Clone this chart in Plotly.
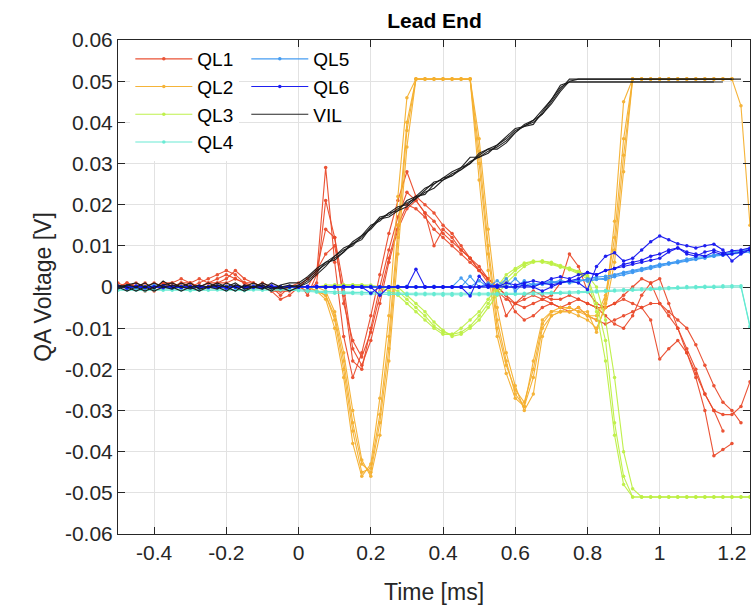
import plotly.graph_objects as go

# ---------------- data ----------------
time_ms = [-0.5, -0.475, -0.45, -0.425, -0.4, -0.375, -0.35, -0.325, -0.3, -0.275,
           -0.25, -0.225, -0.2, -0.175, -0.15, -0.125, -0.1, -0.075, -0.05, -0.025,
           0.0, 0.025, 0.05, 0.075, 0.1, 0.125, 0.15, 0.175, 0.2, 0.225,
           0.25, 0.275, 0.3, 0.325, 0.35, 0.375, 0.4, 0.425, 0.45, 0.475,
           0.5, 0.525, 0.55, 0.575, 0.6, 0.625, 0.65, 0.675, 0.7, 0.725,
           0.75, 0.775, 0.8, 0.825, 0.85, 0.875, 0.9, 0.925, 0.95, 0.975,
           1.0, 1.025, 1.05, 1.075, 1.1, 1.125, 1.15, 1.175, 1.2, 1.225, 1.25]

ql1_run1 = [0.000, 0.001, 0.000, -0.001, 0.000, 0.001, 0.001, 0.000, 0.001, 0.002,
            0.001, 0.002, 0.003, 0.002, 0.001, 0.000, 0.001, 0.000, -0.002, 0.000,
            0.001, -0.002, 0.003, 0.029, 0.006, -0.012, -0.022, -0.016, -0.007, 0.003,
            0.013, 0.021, 0.028, 0.022, 0.020, 0.018, 0.015, 0.013, 0.010, 0.007,
            0.004, 0.002, 0.000, -0.002, -0.004, -0.005, -0.004, -0.003, -0.002, 0.001,
            0.008, 0.005, -0.001, -0.004, -0.005, -0.004, -0.003, -0.004, -0.005, -0.008,
            -0.0175, -0.015, -0.013, -0.016, -0.022, -0.030, -0.041, -0.0395, -0.038]
ql1_run2 = [0.001, 0.000, 0.000, 0.001, -0.001, 0.000, 0.001, 0.002, 0.001, 0.000,
            0.001, 0.001, 0.002, 0.004, 0.002, 0.001, 0.000, -0.001, -0.001, 0.000,
            0.000, -0.001, 0.001, 0.021, 0.012, -0.004, -0.013, -0.017, -0.011, -0.002,
            0.007, 0.015, 0.020, 0.019, 0.017, 0.014, 0.012, 0.010, 0.008, 0.006,
            0.004, 0.001, -0.001, -0.003, -0.004, -0.003, -0.002, -0.003, -0.004, -0.005,
            -0.004, -0.003, -0.004, -0.005, -0.007, -0.009, -0.010, -0.007, -0.002, 0.001,
            0.002, -0.004, -0.010, -0.016, -0.021, -0.026, -0.030, -0.035]
ql1_run3 = [0.000, 0.000, 0.001, 0.000, 0.000, 0.001, 0.000, 0.001, 0.000, 0.001,
            0.002, 0.003, 0.004, 0.003, 0.001, 0.000, 0.000, -0.001, -0.003, -0.002,
            0.000, 0.002, 0.004, 0.008, 0.010, -0.002, -0.018, -0.020, -0.010, 0.000,
            0.009, 0.017, 0.023, 0.021, 0.018, 0.016, 0.013, 0.011, 0.009, 0.007,
            0.004, 0.002, 0.000, -0.007, -0.004, -0.002, -0.001, -0.002, -0.003, -0.003,
            -0.002, -0.003, -0.004, -0.005, -0.005, -0.004, -0.002, 0.000, 0.002, 0.001,
            -0.004, -0.007, -0.010, -0.015, -0.020, -0.026, -0.030, -0.031, -0.031, -0.029, -0.023]
ql1_run4 = [0.000, 0.001, 0.000, 0.000, 0.001, 0.000, 0.000, 0.001, 0.001, 0.000,
            0.000, 0.001, 0.001, 0.002, 0.001, 0.001, 0.000, 0.000, -0.001, -0.001,
            0.000, 0.000, 0.004, 0.014, 0.012, 0.000, -0.015, -0.019, -0.013, -0.004,
            0.006, 0.014, 0.019, 0.021, 0.018, 0.010, 0.014, 0.012, 0.009, 0.007,
            0.005, 0.002, 0.000, -0.002, -0.006, -0.008, -0.007, -0.005, -0.004, -0.005,
            -0.006, -0.005, -0.007, -0.008, -0.009, -0.008, -0.007, -0.006, -0.005, -0.004,
            -0.004, -0.006, -0.008, -0.010, -0.014, -0.019, -0.024, -0.028, -0.030, -0.033]

ql2_run1 = [0.000, 0.000, 0.000, 0.000, 0.000, 0.000, 0.000, 0.000, 0.000, 0.000,
            0.000, 0.000, 0.000, 0.000, 0.000, 0.000, 0.000, 0.000, 0.000, 0.000,
            0.000, 0.000, -0.001, -0.002, -0.008, -0.020, -0.035, -0.045, -0.044, -0.031,
            -0.012, 0.015, 0.040, 0.0505, 0.0505, 0.0505, 0.0505, 0.0505, 0.0505, 0.0505,
            0.030, 0.008, -0.010, -0.019, -0.025, -0.028, -0.020, -0.009, -0.006, -0.006,
            -0.005, -0.006, -0.007, -0.007, -0.002, 0.012, 0.036, 0.0505, 0.0505, 0.0505,
            0.0505, 0.0505, 0.0505, 0.0505, 0.0505, 0.0505, 0.0505, 0.0505, 0.0505, 0.044, 0.015]
ql2_run2 = [0.000, 0.000, 0.000, 0.000, 0.000, 0.000, 0.000, 0.000, 0.000, 0.000,
            0.000, 0.000, 0.000, 0.000, 0.000, 0.000, 0.000, 0.000, 0.000, 0.000,
            0.000, 0.000, 0.000, -0.001, -0.006, -0.016, -0.030, -0.042, -0.046, -0.036,
            -0.018, 0.008, 0.034, 0.0505, 0.0505, 0.0505, 0.0505, 0.0505, 0.0505, 0.0505,
            0.036, 0.014, -0.005, -0.016, -0.024, -0.030, -0.026, -0.012, -0.007, -0.006,
            -0.006, -0.007, -0.008, -0.010, -0.005, 0.006, 0.028, 0.0505, 0.0505, 0.0505,
            0.0505, 0.0505, 0.0505, 0.0505, 0.0505, 0.0505, 0.0505, 0.0505, 0.0505]
ql2_run3 = [0.000, 0.000, 0.000, 0.000, 0.000, 0.000, 0.000, 0.000, 0.000, 0.000,
            0.000, 0.000, 0.000, 0.000, 0.000, 0.000, 0.000, 0.000, 0.000, 0.000,
            0.000, 0.000, -0.001, -0.003, -0.010, -0.022, -0.038, -0.046, -0.043, -0.027,
            -0.007, 0.022, 0.046, 0.0505, 0.0505, 0.0505, 0.0505, 0.0505, 0.0505, 0.0505,
            0.026, 0.004, -0.012, -0.021, -0.027, -0.029, -0.018, -0.008, -0.006, -0.005,
            -0.005, -0.006, -0.006, -0.011, -0.004, 0.016, 0.045, 0.0505, 0.0505, 0.0505,
            0.0505, 0.0505, 0.0505, 0.0505, 0.0505, 0.0505, 0.0505, 0.0505, 0.0505]
ql2_run4 = [0.000, 0.000, 0.000, 0.000, 0.000, 0.000, 0.000, 0.000, 0.000, 0.000,
            0.000, 0.000, 0.000, 0.000, 0.000, 0.000, 0.000, 0.000, 0.000, 0.000,
            0.000, 0.000, -0.001, -0.002, -0.007, -0.018, -0.033, -0.043, -0.045, -0.033,
            -0.015, 0.012, 0.038, 0.0505, 0.0505, 0.0505, 0.0505, 0.0505, 0.0505, 0.0505,
            0.033, 0.010, -0.008, -0.018, -0.026, -0.029, -0.022, -0.010, -0.007, -0.006,
            -0.006, -0.005, -0.007, -0.008, -0.003, 0.009, 0.032, 0.0505, 0.0505, 0.0505,
            0.0505, 0.0505, 0.0505, 0.0505, 0.0505, 0.0505, 0.0505, 0.0505, 0.0505]

ql3_run1 = [0.000, 0.000, 0.000, 0.000, 0.000, 0.000, 0.000, 0.000, 0.000, 0.000,
            0.000, 0.000, 0.000, 0.000, 0.000, 0.000, 0.000, 0.000, 0.000, 0.000,
            0.000, 0.000, 0.000, 0.000, 0.0005, 0.0005, 0.0005, 0.0005, 0.0005, 0.000,
            0.000, -0.001, -0.003, -0.005, -0.007, -0.0095, -0.011, -0.0115, -0.011, -0.0095,
            -0.007, -0.004, -0.001, 0.002, 0.004, 0.0055, 0.0062, 0.0063, 0.0058, 0.005,
            0.0045, 0.0035, 0.0025, -0.004, -0.013, -0.033, -0.046, -0.051, -0.051, -0.051,
            -0.051, -0.051, -0.051, -0.051, -0.051, -0.051, -0.051, -0.051, -0.051, -0.051, -0.051]
ql3_run2 = [0.000, 0.000, 0.000, 0.000, 0.000, 0.000, 0.000, 0.000, 0.000, 0.000,
            0.000, 0.000, 0.000, 0.000, 0.000, 0.000, 0.000, 0.000, 0.000, 0.000,
            0.000, 0.000, 0.000, 0.0005, 0.0005, 0.0005, 0.0005, 0.0005, 0.000, 0.000,
            0.000, 0.000, -0.002, -0.004, -0.006, -0.0085, -0.0105, -0.012, -0.0115, -0.010,
            -0.008, -0.005, -0.002, 0.001, 0.003, 0.005, 0.006, 0.0063, 0.006, 0.0052,
            0.0046, 0.0038, 0.0028, 0.000, -0.008, -0.022, -0.040, -0.049, -0.051, -0.051,
            -0.051, -0.051, -0.051, -0.051, -0.051, -0.051, -0.051, -0.051, -0.051, -0.051, -0.051]
ql3_run3 = [0.000, 0.000, 0.000, 0.000, 0.000, 0.000, 0.000, 0.000, 0.000, 0.000,
            0.000, 0.000, 0.000, 0.000, 0.000, 0.000, 0.000, 0.000, 0.000, 0.000,
            0.000, 0.000, 0.000, 0.000, 0.000, 0.0005, 0.0005, 0.0005, 0.000, 0.000,
            -0.001, -0.002, -0.004, -0.006, -0.008, -0.010, -0.0115, -0.0115, -0.010, -0.008,
            -0.006, -0.003, 0.000, 0.003, 0.0045, 0.0058, 0.0063, 0.006, 0.0055, 0.0048,
            0.0042, 0.0032, 0.002, -0.006, -0.018, -0.036, -0.048, -0.051, -0.051, -0.051,
            -0.051, -0.051, -0.051, -0.051, -0.051, -0.051, -0.051, -0.051, -0.051, -0.051, -0.051]

ql4_run1 = [-0.0005, -0.0006, -0.0004, -0.0005, -0.0006, -0.0005, -0.0004, -0.0005, -0.0006, -0.0005,
            -0.0005, -0.0004, -0.0005, -0.0006, -0.0005, -0.0005, -0.0004, -0.0005, -0.0006, -0.0005,
            -0.0006, -0.0008, -0.0010, -0.0011, -0.0012, -0.0012, -0.0013, -0.0013, -0.0014, -0.0014,
            -0.0014, -0.0015, -0.0015, -0.0015, -0.0015, -0.0016, -0.0016, -0.0016, -0.0016, -0.0016,
            -0.0016, -0.0016, -0.0016, -0.0015, -0.0015, -0.0015, -0.0014, -0.0014, -0.0013, -0.0013,
            -0.0012, -0.0011, -0.0010, -0.0009, -0.0008, -0.0007, -0.0006, -0.0005, -0.0004, -0.0003,
            -0.0002, -0.0001, 0.0000, 0.0001, 0.0001, 0.0002, 0.0002, 0.0003, 0.0003, 0.0003, -0.0095]
ql4_run2 = [-0.0008, -0.0007, -0.0008, -0.0009, -0.0007, -0.0008, -0.0008, -0.0007, -0.0009, -0.0008,
            -0.0008, -0.0007, -0.0008, -0.0008, -0.0009, -0.0007, -0.0008, -0.0008, -0.0007, -0.0008,
            -0.0009, -0.0011, -0.0013, -0.0014, -0.0015, -0.0016, -0.0016, -0.0017, -0.0017, -0.0018,
            -0.0018, -0.0018, -0.0019, -0.0019, -0.0019, -0.0019, -0.0020, -0.0020, -0.0020, -0.0019,
            -0.0019, -0.0019, -0.0019, -0.0018, -0.0018, -0.0018, -0.0017, -0.0017, -0.0016, -0.0016,
            -0.0015, -0.0014, -0.0013, -0.0012, -0.0011, -0.0010, -0.0009, -0.0008, -0.0007, -0.0006,
            -0.0005, -0.0004, -0.0003, -0.0002, -0.0002, -0.0001, -0.0001, 0.0000, 0.0000, 0.0000, -0.0098]

ql5_run1 = [0.0000, 0.0003, -0.0002, 0.0000, 0.0004, 0.0000, -0.0003, 0.0000, 0.0002, 0.0000,
            0.0000, 0.0003, 0.0000, -0.0002, 0.0000, 0.0003, 0.0000, 0.0000, -0.0002, 0.0000,
            0.0000, 0.0000, 0.0002, 0.0000, -0.0002, 0.0000, 0.0000, 0.0002, 0.0000, 0.0000,
            0.0000, 0.0000, 0.0002, 0.0000, 0.0000, 0.0000, 0.0000, 0.0000, 0.0022, 0.0000,
            0.0000, 0.0010, 0.0000, 0.0020, -0.0010, 0.0010, 0.0000, 0.0010, 0.0010, 0.0012,
            0.0014, 0.0016, 0.0018, 0.0020, 0.0018, 0.0025, 0.0030, 0.0035, 0.0040, 0.0045,
            0.0050, 0.0055, 0.0060, 0.0065, 0.0068, 0.0072, 0.0075, 0.0080, 0.0082, 0.0087, 0.0090]
ql5_run2 = [0.0002, 0.0000, 0.0000, -0.0002, 0.0000, 0.0003, 0.0000, 0.0000, -0.0002, 0.0002,
            0.0000, 0.0000, 0.0002, 0.0000, 0.0000, -0.0002, 0.0002, 0.0000, 0.0000, 0.0002,
            0.0000, -0.0002, 0.0000, 0.0000, 0.0002, 0.0000, 0.0000, 0.0000, 0.0002, 0.0000,
            0.0000, 0.0000, 0.0000, 0.0000, 0.0000, 0.0002, 0.0000, 0.0000, 0.0000, 0.0026,
            0.0000, 0.0000, 0.0015, 0.0000, 0.0000, 0.0015, 0.0005, 0.0010, 0.0014, 0.0010,
            0.0012, 0.0018, 0.0014, 0.0018, 0.0022, 0.0028, 0.0034, 0.0038, 0.0043, 0.0048,
            0.0053, 0.0058, 0.0059, 0.0063, 0.0067, 0.0070, 0.0075, 0.0077, 0.0080, 0.0082, 0.0085]
ql5_run3 = [0.0000, 0.0000, 0.0002, 0.0000, -0.0002, 0.0000, 0.0000, 0.0002, 0.0000, 0.0000,
            -0.0002, 0.0000, 0.0000, 0.0002, 0.0000, 0.0000, 0.0000, -0.0002, 0.0000, 0.0000,
            0.0002, 0.0000, 0.0000, -0.0002, 0.0000, 0.0000, 0.0002, 0.0000, 0.0000, 0.0000,
            0.0000, 0.0002, 0.0000, 0.0000, 0.0000, 0.0000, 0.0000, 0.0000, 0.0000, 0.0000,
            0.0015, 0.0000, 0.0000, 0.0000, 0.0020, 0.0000, 0.0008, 0.0006, 0.0010, 0.0016,
            0.0010, 0.0012, 0.0020, 0.0024, 0.0026, 0.0030, 0.0036, 0.0040, 0.0045, 0.0050,
            0.0055, 0.0058, 0.0063, 0.0068, 0.0072, 0.0074, 0.0078, 0.0080, 0.0085, 0.0088, 0.0092]

ql6_run1 = [0.0000, -0.0003, 0.0002, 0.0000, 0.0000, 0.0003, 0.0000, -0.0002, 0.0000, 0.0002,
            0.0000, 0.0000, -0.0003, 0.0000, 0.0002, 0.0000, 0.0000, 0.0003, 0.0000, 0.0000,
            0.0000, 0.0002, 0.0000, 0.0000, 0.0000, 0.0000, 0.0000, 0.0000, 0.0000, -0.0020,
            0.0000, 0.0000, 0.0000, 0.0043, 0.0000, 0.0000, 0.0000, 0.0000, 0.0000, -0.0022,
            0.0026, 0.0000, 0.0000, 0.0000, 0.0000, 0.0000, 0.0000, 0.0010, 0.0005, 0.0010,
            0.0015, 0.0010, -0.0006, 0.0050, 0.0075, 0.0083, 0.0063, 0.0070, 0.0090, 0.0110,
            0.0124, 0.0115, 0.0105, 0.0100, 0.0095, 0.0100, 0.0104, 0.0090, 0.0063, 0.0080, 0.0091]
ql6_run2 = [0.0002, 0.0000, 0.0000, -0.0002, 0.0000, 0.0000, 0.0002, 0.0000, 0.0000, -0.0002,
            0.0000, 0.0002, 0.0000, 0.0000, -0.0002, 0.0000, 0.0002, 0.0000, 0.0000, 0.0000,
            0.0000, 0.0000, 0.0002, 0.0000, 0.0000, 0.0000, 0.0000, 0.0000, -0.0015, 0.0000,
            0.0000, 0.0000, 0.0000, 0.0000, 0.0000, 0.0000, 0.0000, 0.0000, 0.0000, 0.0000,
            0.0000, 0.0000, 0.0005, 0.0000, 0.0000, 0.0005, 0.0000, -0.0010, 0.0000, 0.0010,
            0.0015, 0.0020, 0.0035, 0.0030, 0.0040, 0.0045, 0.0050, 0.0055, 0.0060, 0.0065,
            0.0070, 0.0085, 0.0095, 0.0080, 0.0075, 0.0085, 0.0090, 0.0082, 0.0088, 0.0090, 0.0095]
ql6_run3 = [0.0000, 0.0000, 0.0002, 0.0000, 0.0000, -0.0002, 0.0000, 0.0000, 0.0002, 0.0000,
            0.0000, 0.0000, 0.0000, 0.0002, 0.0000, 0.0000, -0.0002, 0.0000, 0.0000, 0.0002,
            0.0000, 0.0000, 0.0000, 0.0000, 0.0000, 0.0002, 0.0000, 0.0000, 0.0000, 0.0000,
            0.0000, 0.0000, 0.0000, 0.0000, 0.0000, 0.0000, 0.0000, 0.0000, 0.0000, 0.0000,
            0.0000, 0.0005, 0.0000, 0.0010, 0.0005, 0.0010, 0.0015, 0.0010, 0.0020, 0.0025,
            0.0020, 0.0030, 0.0035, 0.0030, 0.0040, 0.0045, 0.0055, 0.0060, 0.0065, 0.0075,
            0.0080, 0.0090, 0.0095, 0.0085, 0.0080, 0.0075, 0.0085, 0.0078, 0.0080, 0.0085, 0.0090]

vil_run1 = [0.0000, -0.0010, 0.0000, 0.0010, -0.0005, 0.0015, 0.0000, -0.0010, 0.0000, 0.0005,
            0.0000, -0.0005, 0.0010, 0.0000, -0.0010, 0.0000, 0.0010, 0.0000, -0.0005, 0.0000,
            0.0005, 0.0020, 0.0040, 0.0055, 0.0070, 0.0085, 0.0105, 0.0120, 0.0145, 0.0170,
            0.0175, 0.0190, 0.0205, 0.0215, 0.0235, 0.0255, 0.0260, 0.0270, 0.0285, 0.0305,
            0.0315, 0.0330, 0.0340, 0.0355, 0.0375, 0.0392, 0.0400, 0.0420, 0.0450, 0.0480,
            0.0505, 0.0505, 0.0505, 0.0505, 0.0505, 0.0505, 0.0505, 0.0505, 0.0505, 0.0505,
            0.0505, 0.0505, 0.0505, 0.0505, 0.0505, 0.0505, 0.0505, 0.0505, 0.0505, 0.0505]
vil_run2 = [0.0005, 0.0000, -0.0010, 0.0000, 0.0010, 0.0000, -0.0005, 0.0010, 0.0000, -0.0010,
            0.0000, 0.0010, 0.0000, -0.0010, 0.0005, 0.0000, -0.0005, 0.0010, 0.0000, -0.0010,
            0.0000, 0.0015, 0.0035, 0.0060, 0.0075, 0.0090, 0.0100, 0.0125, 0.0150, 0.0160,
            0.0180, 0.0195, 0.0200, 0.0220, 0.0240, 0.0250, 0.0265, 0.0280, 0.0290, 0.0300,
            0.0320, 0.0335, 0.0345, 0.0360, 0.0380, 0.0390, 0.0405, 0.0430, 0.0455, 0.0485,
            0.0498, 0.0498, 0.0498, 0.0498, 0.0498, 0.0498, 0.0498, 0.0498, 0.0498, 0.0498,
            0.0498, 0.0498, 0.0498, 0.0498, 0.0498, 0.0498, 0.0498]
vil_run3 = [-0.0005, 0.0005, 0.0000, -0.0010, 0.0000, 0.0005, 0.0010, 0.0000, -0.0005, 0.0000,
            0.0010, 0.0000, -0.0010, 0.0005, 0.0000, 0.0010, 0.0000, -0.0010, 0.0005, 0.0010,
            0.0010, 0.0025, 0.0045, 0.0060, 0.0065, 0.0085, 0.0110, 0.0125, 0.0140, 0.0165,
            0.0180, 0.0185, 0.0195, 0.0215, 0.0230, 0.0240, 0.0260, 0.0275, 0.0285, 0.0300,
            0.0325, 0.0335, 0.0335, 0.0350, 0.0375, 0.0395, 0.0405, 0.0420, 0.0445, 0.0475,
            0.0500, 0.0505, 0.0505, 0.0505, 0.0505, 0.0505, 0.0505, 0.0505, 0.0505, 0.0505,
            0.0505, 0.0505, 0.0505, 0.0505, 0.0505, 0.0505, 0.0505, 0.0505, 0.0505]
vil_run4 = [0.0000, 0.0005, 0.0010, 0.0000, -0.0010, 0.0000, 0.0005, 0.0000, 0.0010, -0.0005,
            0.0000, 0.0005, 0.0000, 0.0010, -0.0005, 0.0000, 0.0005, -0.0005, 0.0000, 0.0005,
            0.0000, 0.0010, 0.0030, 0.0050, 0.0075, 0.0095, 0.0105, 0.0115, 0.0145, 0.0165,
            0.0170, 0.0185, 0.0210, 0.0220, 0.0225, 0.0250, 0.0265, 0.0270, 0.0290, 0.0315,
            0.0315, 0.0325, 0.0345, 0.0365, 0.0385, 0.0390, 0.0395, 0.0425, 0.0455, 0.0490,
            0.0498, 0.0498, 0.0498, 0.0498, 0.0498, 0.0498, 0.0498, 0.0498, 0.0498, 0.0498,
            0.0498, 0.0498, 0.0498, 0.0498, 0.0498, 0.0498, 0.0498, 0.0498]

series_names = ["QL1", "QL2", "QL3", "QL4", "QL5", "QL6", "VIL"]
series_runs = [
    [ql1_run1, ql1_run2, ql1_run3, ql1_run4],
    [ql2_run1, ql2_run2, ql2_run3, ql2_run4],
    [ql3_run1, ql3_run2, ql3_run3],
    [ql4_run1, ql4_run2],
    [ql5_run1, ql5_run2, ql5_run3],
    [ql6_run1, ql6_run2, ql6_run3],
    [vil_run1, vil_run2, vil_run3, vil_run4],
]

x_tick_vals = [-0.4, -0.2, 0, 0.2, 0.4, 0.6, 0.8, 1.0, 1.2]
x_tick_text = ["-0.4", "-0.2", "0", "0.2", "0.4", "0.6", "0.8", "1", "1.2"]
y_tick_vals = [-0.06, -0.05, -0.04, -0.03, -0.02, -0.01, 0, 0.01, 0.02, 0.03, 0.04, 0.05, 0.06]
y_tick_text = ["-0.06", "-0.05", "-0.04", "-0.03", "-0.02", "-0.01", "0",
               "0.01", "0.02", "0.03", "0.04", "0.05", "0.06"]

# ---------------- style ----------------
colors = ["#ea4a2b", "#f5b02f", "#bdf044", "#62ead2", "#3c98f2", "#1414f0", "#1a1a1a"]
legend_of = ["legend", "legend", "legend", "legend", "legend2", "legend2", "legend2"]
FONT = "Liberation Sans, Arial, Helvetica, sans-serif"
INK = "#262626"

fig = go.Figure()
for name, runs, col, lg in zip(series_names, series_runs, colors, legend_of):
    has_markers = name != "VIL"
    for k, vals in enumerate(runs):
        fig.add_trace(go.Scatter(
            x=time_ms[:len(vals)], y=vals,
            mode="lines+markers" if has_markers else "lines",
            name=name, legendgroup=name, showlegend=(k == 0), legend=lg,
            line=dict(color=col, width=1.1),
            marker=dict(color=col, size=3.5),
            opacity=0.95,
        ))

axis_common = dict(
    showline=True, linecolor=INK, linewidth=1, mirror="ticks",
    ticks="inside", ticklen=7, tickcolor=INK, tickwidth=1,
    showgrid=True, gridcolor="#e2e2e2", gridwidth=1, zeroline=False,
    tickfont=dict(family=FONT, size=21, color=INK),
)

fig.update_layout(
    width=753, height=608,
    margin=dict(l=118, r=3, t=40, b=74),
    paper_bgcolor="white", plot_bgcolor="white",
    font=dict(family=FONT, color=INK),
    title=dict(text="<b>Lead End</b>", x=0.577, xanchor="center", y=0.966, yanchor="middle",
               font=dict(family=FONT, size=21, color="black")),
    xaxis=dict(range=[-0.5, 1.25], tickvals=x_tick_vals, ticktext=x_tick_text,
               title=dict(text="Time [ms]", font=dict(family=FONT, size=23, color=INK), standoff=20),
               **axis_common),
    yaxis=dict(range=[-0.06, 0.06], tickvals=y_tick_vals, ticktext=y_tick_text,
               title=dict(text="QA Voltage [V]", font=dict(family=FONT, size=23, color=INK), standoff=6),
               **axis_common),
    legend=dict(x=0.0195, y=1.0, xanchor="left", yanchor="top", bgcolor="white",
                borderwidth=0, font=dict(family=FONT, size=19, color="black"),
                itemwidth=57, tracegroupgap=0),
    legend2=dict(x=0.203, y=1.0, xanchor="left", yanchor="top", bgcolor="rgba(0,0,0,0)",
                 borderwidth=0, font=dict(family=FONT, size=19, color="black"),
                 itemwidth=57, tracegroupgap=0),
)

fig.write_html("out.html")
